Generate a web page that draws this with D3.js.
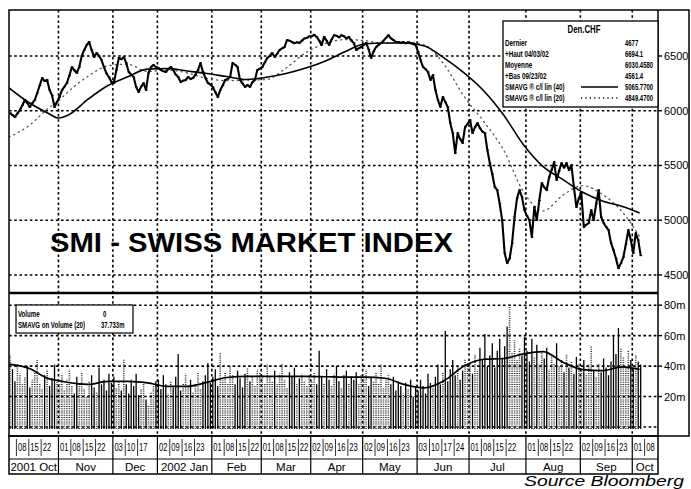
<!DOCTYPE html>
<html>
<head>
<meta charset="utf-8">
<script src="https://cdn.jsdelivr.net/npm/d3@7/dist/d3.min.js"></script>
<style>
  html, body { margin: 0; padding: 0; background: #fff; }
  svg { display: block; }
  text { font-family: "Liberation Sans", Arial, sans-serif; fill: #000; }
  .narrow { font-family: "Liberation Sans Narrow", "Arial Narrow", "Liberation Sans", sans-serif; }
</style>
</head>
<body>
<svg id="chart" width="691" height="489"></svg>
<script>
// ---- SMI daily closes, Oct 2001 - Oct 2002 (one value per trading day) ----
const closes = [
  5979,5960,5942,5975,6006,6050,6098,6070,6034,6070,6098,6162,6230,6299,6270,6281,6189,6140,6034,6080,
  6125,6189,6220,6253,6320,6399,6370,6345,6399,6500,6555,6600,6628,6555,6491,6527,6500,6463,6399,6340,6308,6262,
  6253,6372,6482,6470,6491,6436,6354,6330,6308,6217,6171,6220,6253,6189,6345,6400,6418,6399,
  6390,6372,6360,6354,6380,6399,6372,6330,6308,6262,6275,6281,6308,6290,6299,6330,6372,6436,6354,6300,6253,6240,
  6217,6170,6125,6189,6230,6281,6290,6308,6436,6420,6399,6281,6250,6217,6235,6217,6260,6281,6372,6385,
  6399,6440,6482,6500,6527,6491,6520,6555,6570,6582,6646,6640,6628,6615,6625,6619,6640,6660,6665,6680,
  6680,6694.1,6674,6640,6601,6674,6640,6601,6650,6690,6685,6670,6690,6680,6660,6674,6640,6619,6555,6570,6582,
  6600,6619,6560,6482,6540,6582,6600,6619,6640,6665,6690,6660,6646,6630,6628,6620,6628,6615,6625,6619,6610,6601,
  6537,6463,6399,6380,6354,6281,6326,6189,6098,6034,6125,6080,6034,5888,5796,5613,5796,5740,5705,5851,5880,
  5915,5796,5850,5888,5840,5810,5796,5641,5522,5420,5303,5275,5150,5001,4699,4608,4650,4791,5028,5200,5275,5211,5092,
  5040,5001,4846,5120,5001,5180,5339,5300,5275,5394,5460,5531,5367,5450,5522,5480,5522,5458,5504,5303,5120,5200,
  5248,4937,4960,4974,5092,5001,5150,5275,5028,4974,4940,4910,4791,4727,4650,4561.4,4608,4663,4780,4910,4818,
  4699,4882,4818,4677
];

// ---- daily traded volume, millions of shares ----
const volumes = [
  47,38,30,42,35,28,33,40,26,31,36,44,29,25,34,38,27,32,41,30,
  28,35,24,31,38,27,22,33,29,36,25,20,30,34,26,23,39,28,31,24,35,29,
  33,26,30,24,45,28,22,31,27,35,21,25,29,18,14,23,27,30,
  31,25,34,28,22,30,26,33,48,24,29,35,27,31,23,28,36,25,30,34,42,29,
  33,38,27,49,31,36,29,40,34,28,37,32,26,35,39,30,33,27,38,36,
  34,29,41,33,30,37,28,35,42,31,26,36,33,39,28,32,35,30,27,34,
  30,36,28,50,33,29,38,31,27,35,40,30,26,34,37,29,33,31,36,28,34,
  32,38,27,33,30,36,29,41,26,31,35,28,33,24,30,27,22,29,25,31,20,26,
  24,31,27,22,35,29,26,33,41,28,36,63,30,38,44,34,40,31,37,45,39,
  42,35,48,38,52,44,61,40,47,55,39,50,58,45,53,66,81,49,57,44,52,47,59,
  50,43,58,46,54,41,49,45,52,38,47,42,55,40,44,36,48,39,43,35,46,41,
  38,44,35,41,53,37,33,42,36,45,39,34,43,60,48,65,52,46,40,50,44,
  38,47,43,41
];

// ---- moving averages, sampled at trading-day positions ----
const maIdx  = [0,8,16,20,24,32,40,48,56,64,72,80,88,96,104,112,120,128,136,144,152,160,168,176,184,192,200,208,216,224,232,240,248,255];
const ma40   = [6208,6075,5975,5933,5960,6105,6230,6310,6380,6385,6363,6340,6312,6285,6305,6340,6390,6455,6540,6612,6619,6619,6592,6480,6345,6180,5960,5690,5490,5370,5255,5175,5125,5065.77];
const ma20   = [5760,5862,6025,6090,6175,6315,6410,6425,6358,6372,6345,6295,6275,6280,6285,6390,6530,6615,6650,6640,6615,6630,6600,6420,6130,5900,5640,5260,5085,5230,5315,5235,5075,4849.47];
const volMa  = [41.3,38.6,31.8,30.5,29.2,28,30,30,29,26.7,26.7,29.3,32.5,33.3,33.3,33.3,33.3,33,32.7,32.7,32,27.8,25.7,30.5,40,44.5,45,48,49.5,42.5,37.7,37,39.5,37.733];

// ---- time axis: months and weekly day labels (trading-day index) ----
const monthLabels = ["2001 Oct","Nov","Dec","2002 Jan","Feb","Mar","Apr","May","Jun","Jul","Aug","Sep","Oct"];
const monthStart  = [0,20,42,60,82,102,122,143,165,186,209,231,252];
const axisEnd     = 262;
const dayLabels = ["08","15","22","01","08","15","22","03","10","17","02","09","16","23","01","08","15","22",
                   "01","08","15","22","02","09","16","23","02","09","16","23","03","10","17","24",
                   "01","08","15","22","01","08","15","22","02","09","16","23","01","08"];
const dayIdx    = [3,8,13,20,25,30,35,42,47,52,60,65,70,75,82,87,92,97,
                   102,107,112,117,122,127,132,137,143,148,153,158,165,170,175,180,
                   186,191,196,201,209,214,219,224,231,236,241,246,252,257];

const priceTicks  = [6500,6000,5500,5000,4500];
const volumeTicks = [80,60,40,20];

// ---- legend texts ----
const legendTitle = "Den.CHF";
const legendRows = [
  ["Dernier", "4677"],
  ["+Haut 04/03/02", "6694.1"],
  ["Moyenne", "6030.4580"],
  ["+Bas 09/23/02", "4561.4"],
  ["SMAVG \u00AE c/l lin (40)", "5065.7700"],
  ["SMAVG \u00AE c/l lin (20)", "4849.4700"]
];
const volLegendRows = [["Volume", "0"], ["SMAVG on Volume (20)", "37.733m"]];

// ---------------------------------------------------------------------------
const svg = d3.select("#chart");
const L = 9, R = 657, RA = 689, T = 10, MID = 293, VB = 436, DR = 459, B = 474;

const x  = d3.scaleLinear().domain([0, axisEnd]).range([L, R]);
const yP = d3.scaleLinear().domain([4335, 6920]).range([MID, T]);
const yV = d3.scaleLinear().domain([0, 88]).range([427, MID]);

// condensed lettering: text placed at (px, py) and squeezed horizontally by k
function narrowText(parent, px, py, str, size, k, anchor) {
  return parent.append("text")
    .attr("class", "narrow")
    .attr("transform", `translate(${px},${py}) scale(${k},1)`)
    .attr("text-anchor", anchor || "start")
    .attr("font-size", size).attr("font-weight", "bold")
    .text(str);
}

svg.append("rect").attr("width", 691).attr("height", 489).attr("fill", "#fff");

const defs = svg.append("defs");
defs.append("clipPath").attr("id", "cp").append("rect")
  .attr("x", L).attr("y", T).attr("width", R - L).attr("height", MID - T);
defs.append("clipPath").attr("id", "cv").append("rect")
  .attr("x", L).attr("y", MID).attr("width", R - L).attr("height", VB - MID);

const dotted = g => g.attr("stroke", "#000").attr("stroke-width", 1.6).attr("stroke-dasharray", "2.6,2.6").attr("fill", "none");

// grid: horizontal
svg.append("g").selectAll("line").data(priceTicks).join("line")
  .attr("x1", L).attr("x2", R).attr("y1", d => yP(d)).attr("y2", d => yP(d)).call(dotted);
svg.append("g").selectAll("line").data(volumeTicks.concat([0])).join("line")
  .attr("x1", L).attr("x2", R).attr("y1", d => yV(d)).attr("y2", d => yV(d)).call(dotted);
// grid: vertical at month starts
svg.append("g").selectAll("line").data(monthStart.slice(1)).join("line")
  .attr("x1", d => x(d)).attr("x2", d => x(d)).attr("y1", T).attr("y2", VB).call(dotted);

// ---- volume bars (solid on down days, stippled on up days) ----
const isDown = i => i > 0 && closes[i] < closes[i - 1];
const vg = svg.append("g").attr("clip-path", "url(#cv)");
vg.selectAll("line").data(volumes).join("line")
  .attr("x1", (d, i) => x(i) + 1).attr("x2", (d, i) => x(i) + 1)
  .attr("y1", yV(0) + 2).attr("y2", d => yV(d))
  .attr("stroke", (d, i) => isDown(i) ? "#000" : "#333")
  .attr("stroke-width", (d, i) => isDown(i) ? 1.3 : 1.6)
  .attr("stroke-dasharray", (d, i) => isDown(i) ? null : "1,1.2");

vg.append("path").datum(maIdx.map((d, i) => [d, volMa[i]]))
  .attr("d", d3.line().x(d => x(d[0])).y(d => yV(d[1])).curve(d3.curveMonotoneX))
  .attr("fill", "none").attr("stroke", "#000").attr("stroke-width", 1.7);

// ---- price panel lines ----
const pg = svg.append("g").attr("clip-path", "url(#cp)");
pg.append("path").datum(maIdx.map((d, i) => [d, ma20[i]]))
  .attr("d", d3.line().x(d => x(d[0])).y(d => yP(d[1])).curve(d3.curveMonotoneX))
  .attr("fill", "none").attr("stroke", "#555").attr("stroke-width", 1.3)
  .attr("stroke-dasharray", "1.2,4").attr("stroke-linecap", "round");
pg.append("path").datum(maIdx.map((d, i) => [d, ma40[i]]))
  .attr("d", d3.line().x(d => x(d[0])).y(d => yP(d[1])).curve(d3.curveMonotoneX))
  .attr("fill", "none").attr("stroke", "#000").attr("stroke-width", 1.6);
pg.append("path").datum(closes)
  .attr("d", d3.line().x((d, i) => x(i) + 1).y(d => yP(d)))
  .attr("fill", "none").attr("stroke", "#000").attr("stroke-width", 2.1)
  .attr("stroke-linejoin", "round");
// small close ticks on the price line
pg.append("g").selectAll("line").data(closes).join("line")
  .attr("x1", (d, i) => x(i)).attr("x2", (d, i) => x(i) + 2.5)
  .attr("y1", d => yP(d)).attr("y2", d => yP(d))
  .attr("stroke", "#000").attr("stroke-width", 1.2);

// ---- frames ----
svg.append("rect").attr("x", L).attr("y", T).attr("width", RA - L).attr("height", VB - T)
  .attr("fill", "none").attr("stroke", "#000").attr("stroke-width", 1.5);
svg.append("line").attr("x1", R + 1).attr("x2", R + 1).attr("y1", T).attr("y2", VB)
  .attr("stroke", "#000").attr("stroke-width", 1.5);
svg.append("line").attr("x1", L).attr("x2", R + 1).attr("y1", MID).attr("y2", MID)
  .attr("stroke", "#000").attr("stroke-width", 2.6);

// ---- right axes ----
const ra = svg.append("g");
ra.selectAll(".pt").data(priceTicks).join("g").attr("class", "pt").each(function (d) {
  const g = d3.select(this);
  g.append("line").attr("x1", R + 1).attr("x2", R + 5).attr("y1", yP(d)).attr("y2", yP(d))
    .attr("stroke", "#000").attr("stroke-width", 1.4);
  g.append("text").attr("x", R + 7).attr("y", yP(d) + 4).attr("font-size", 11).text(d);
});
ra.selectAll(".vt").data(volumeTicks).join("g").attr("class", "vt").each(function (d) {
  const g = d3.select(this);
  g.append("line").attr("x1", R + 1).attr("x2", R + 5).attr("y1", yV(d)).attr("y2", yV(d))
    .attr("stroke", "#000").attr("stroke-width", 1.4);
  g.append("text").attr("x", R + 7).attr("y", yV(d) + 4).attr("font-size", 11).text(d + "m");
});

// ---- date table ----
const dt = svg.append("g");
dt.append("rect").attr("x", L).attr("y", VB).attr("width", R + 1 - L).attr("height", B - VB)
  .attr("fill", "none").attr("stroke", "#000").attr("stroke-width", 1.5);
dt.append("line").attr("x1", L).attr("x2", R + 1).attr("y1", DR).attr("y2", DR)
  .attr("stroke", "#000").attr("stroke-width", 1.2);
dt.selectAll(".mb").data(monthStart.slice(1)).join("line").attr("class", "mb")
  .attr("x1", d => x(d)).attr("x2", d => x(d)).attr("y1", VB).attr("y2", B)
  .attr("stroke", "#000").attr("stroke-width", 1.2);
dt.selectAll(".dsep").data(dayIdx.filter(d => !monthStart.includes(d))).join("line").attr("class", "dsep")
  .attr("x1", d => x(d)).attr("x2", d => x(d)).attr("y1", VB + 3).attr("y2", DR - 3)
  .attr("stroke", "#000").attr("stroke-width", 0.8);
dt.selectAll(".dl").data(dayLabels).join("text").attr("class", "dl narrow")
  .attr("x", (d, i) => x(dayIdx[i]) + 1.5).attr("y", VB + 15)
  .attr("font-size", 10).attr("textLength", 8.5).attr("lengthAdjust", "spacingAndGlyphs")
  .text(d => d);
dt.selectAll(".ml").data(monthLabels).join("text").attr("class", "ml")
  .attr("x", (d, i) => (x(monthStart[i]) + x(i + 1 < monthStart.length ? monthStart[i + 1] : axisEnd)) / 2)
  .attr("y", DR + 11.5).attr("text-anchor", "middle").attr("font-size", 11.5)
  .text(d => d);

// ---- price legend ----
const lg = svg.append("g");
lg.append("rect").attr("x", 503).attr("y", 21).attr("width", R + 1 - 503).attr("height", 86)
  .attr("fill", "#fff").attr("stroke", "#000").attr("stroke-width", 1.3);
narrowText(lg, 584, 33, legendTitle, 10, 0.78, "middle");
const rowY = [46, 57, 68, 79, 90, 101];
legendRows.forEach((r, i) => {
  narrowText(lg, 505, rowY[i], r[0], 9, 0.7);
  narrowText(lg, 625, rowY[i], r[1], 9, 0.66);
});
lg.append("line").attr("x1", 581).attr("x2", 618).attr("y1", rowY[4] - 3).attr("y2", rowY[4] - 3)
  .attr("stroke", "#000").attr("stroke-width", 1.3);
lg.append("line").attr("x1", 581).attr("x2", 618).attr("y1", rowY[5] - 3).attr("y2", rowY[5] - 3)
  .attr("stroke", "#000").attr("stroke-width", 1.3).attr("stroke-dasharray", "1.2,3.2");

// ---- volume legend ----
const vl = svg.append("g");
vl.append("rect").attr("x", 16).attr("y", 305).attr("width", 117).attr("height", 28)
  .attr("fill", "#fff").attr("stroke", "#000").attr("stroke-width", 1.2);
volLegendRows.forEach((r, i) => {
  narrowText(vl, 18, 317 + i * 11, r[0], 9, 0.68);
  narrowText(vl, i === 0 ? 103 : 101, 317 + i * 11, r[1], 9, 0.66);
});

// ---- title and source ----
svg.append("text").attr("x", 50).attr("y", 252).attr("font-size", 27).attr("font-weight", "bold")
  .attr("textLength", 403).attr("lengthAdjust", "spacingAndGlyphs")
  .text("SMI - SWISS MARKET INDEX");
svg.append("text").attr("x", 524).attr("y", 485.5).attr("font-size", 15.5).attr("font-style", "italic")
  .attr("textLength", 160).attr("lengthAdjust", "spacingAndGlyphs")
  .text("Source Bloomberg");
</script>
</body>
</html>
